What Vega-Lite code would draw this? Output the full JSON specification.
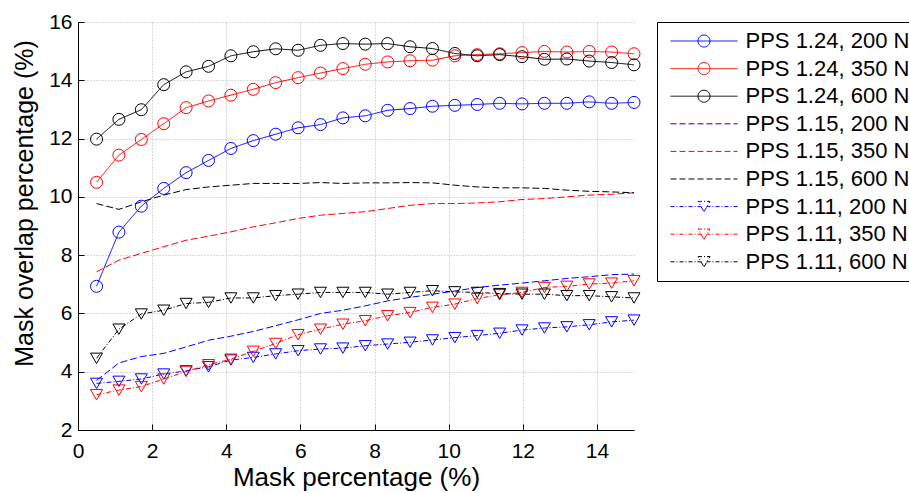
{
"$schema": "https://vega.github.io/schema/vega-lite/v6.json",
"autosize": {"type": "none"},
"padding": {"left": 78, "top": 22, "right": 275, "bottom": 63},
"width": 556,
"height": 408,
"background": "white",
"config": {"font": "Liberation Sans", "view": {"stroke": null}},
"data": {"values": [
{"s":"PPS 1.24, 200 N","x":0.5,"y":6.93},{"s":"PPS 1.24, 200 N","x":1.104,"y":8.79},{"s":"PPS 1.24, 200 N","x":1.708,"y":9.68},{"s":"PPS 1.24, 200 N","x":2.313,"y":10.29},{"s":"PPS 1.24, 200 N","x":2.917,"y":10.83},{"s":"PPS 1.24, 200 N","x":3.521,"y":11.25},{"s":"PPS 1.24, 200 N","x":4.125,"y":11.66},{"s":"PPS 1.24, 200 N","x":4.729,"y":11.93},{"s":"PPS 1.24, 200 N","x":5.333,"y":12.15},{"s":"PPS 1.24, 200 N","x":5.938,"y":12.37},{"s":"PPS 1.24, 200 N","x":6.542,"y":12.48},{"s":"PPS 1.24, 200 N","x":7.146,"y":12.71},{"s":"PPS 1.24, 200 N","x":7.75,"y":12.78},{"s":"PPS 1.24, 200 N","x":8.354,"y":12.97},{"s":"PPS 1.24, 200 N","x":8.958,"y":13.03},{"s":"PPS 1.24, 200 N","x":9.563,"y":13.11},{"s":"PPS 1.24, 200 N","x":10.167,"y":13.14},{"s":"PPS 1.24, 200 N","x":10.771,"y":13.17},{"s":"PPS 1.24, 200 N","x":11.375,"y":13.21},{"s":"PPS 1.24, 200 N","x":11.979,"y":13.19},{"s":"PPS 1.24, 200 N","x":12.583,"y":13.21},{"s":"PPS 1.24, 200 N","x":13.188,"y":13.21},{"s":"PPS 1.24, 200 N","x":13.792,"y":13.26},{"s":"PPS 1.24, 200 N","x":14.396,"y":13.21},{"s":"PPS 1.24, 200 N","x":15,"y":13.24},
{"s":"PPS 1.24, 350 N","x":0.5,"y":10.5},{"s":"PPS 1.24, 350 N","x":1.104,"y":11.43},{"s":"PPS 1.24, 350 N","x":1.708,"y":11.97},{"s":"PPS 1.24, 350 N","x":2.313,"y":12.51},{"s":"PPS 1.24, 350 N","x":2.917,"y":13.06},{"s":"PPS 1.24, 350 N","x":3.521,"y":13.29},{"s":"PPS 1.24, 350 N","x":4.125,"y":13.49},{"s":"PPS 1.24, 350 N","x":4.729,"y":13.69},{"s":"PPS 1.24, 350 N","x":5.333,"y":13.92},{"s":"PPS 1.24, 350 N","x":5.938,"y":14.09},{"s":"PPS 1.24, 350 N","x":6.542,"y":14.25},{"s":"PPS 1.24, 350 N","x":7.146,"y":14.4},{"s":"PPS 1.24, 350 N","x":7.75,"y":14.55},{"s":"PPS 1.24, 350 N","x":8.354,"y":14.63},{"s":"PPS 1.24, 350 N","x":8.958,"y":14.67},{"s":"PPS 1.24, 350 N","x":9.563,"y":14.69},{"s":"PPS 1.24, 350 N","x":10.167,"y":14.84},{"s":"PPS 1.24, 350 N","x":10.771,"y":14.88},{"s":"PPS 1.24, 350 N","x":11.375,"y":14.91},{"s":"PPS 1.24, 350 N","x":11.979,"y":14.95},{"s":"PPS 1.24, 350 N","x":12.583,"y":14.99},{"s":"PPS 1.24, 350 N","x":13.188,"y":14.97},{"s":"PPS 1.24, 350 N","x":13.792,"y":14.99},{"s":"PPS 1.24, 350 N","x":14.396,"y":14.97},{"s":"PPS 1.24, 350 N","x":15,"y":14.91},
{"s":"PPS 1.24, 600 N","x":0.5,"y":11.98},{"s":"PPS 1.24, 600 N","x":1.104,"y":12.66},{"s":"PPS 1.24, 600 N","x":1.708,"y":12.99},{"s":"PPS 1.24, 600 N","x":2.313,"y":13.85},{"s":"PPS 1.24, 600 N","x":2.917,"y":14.29},{"s":"PPS 1.24, 600 N","x":3.521,"y":14.48},{"s":"PPS 1.24, 600 N","x":4.125,"y":14.84},{"s":"PPS 1.24, 600 N","x":4.729,"y":14.98},{"s":"PPS 1.24, 600 N","x":5.333,"y":15.08},{"s":"PPS 1.24, 600 N","x":5.938,"y":15.03},{"s":"PPS 1.24, 600 N","x":6.542,"y":15.2},{"s":"PPS 1.24, 600 N","x":7.146,"y":15.26},{"s":"PPS 1.24, 600 N","x":7.75,"y":15.24},{"s":"PPS 1.24, 600 N","x":8.354,"y":15.26},{"s":"PPS 1.24, 600 N","x":8.958,"y":15.15},{"s":"PPS 1.24, 600 N","x":9.563,"y":15.09},{"s":"PPS 1.24, 600 N","x":10.167,"y":14.92},{"s":"PPS 1.24, 600 N","x":10.771,"y":14.84},{"s":"PPS 1.24, 600 N","x":11.375,"y":14.88},{"s":"PPS 1.24, 600 N","x":11.979,"y":14.81},{"s":"PPS 1.24, 600 N","x":12.583,"y":14.72},{"s":"PPS 1.24, 600 N","x":13.188,"y":14.73},{"s":"PPS 1.24, 600 N","x":13.792,"y":14.66},{"s":"PPS 1.24, 600 N","x":14.396,"y":14.61},{"s":"PPS 1.24, 600 N","x":15,"y":14.53},
{"s":"PPS 1.15, 200 N","x":0.5,"y":3.7},{"s":"PPS 1.15, 200 N","x":1.104,"y":4.3},{"s":"PPS 1.15, 200 N","x":1.708,"y":4.52},{"s":"PPS 1.15, 200 N","x":2.313,"y":4.63},{"s":"PPS 1.15, 200 N","x":2.917,"y":4.85},{"s":"PPS 1.15, 200 N","x":3.521,"y":5.08},{"s":"PPS 1.15, 200 N","x":4.125,"y":5.22},{"s":"PPS 1.15, 200 N","x":4.729,"y":5.38},{"s":"PPS 1.15, 200 N","x":5.333,"y":5.58},{"s":"PPS 1.15, 200 N","x":5.938,"y":5.78},{"s":"PPS 1.15, 200 N","x":6.542,"y":6.0},{"s":"PPS 1.15, 200 N","x":7.146,"y":6.11},{"s":"PPS 1.15, 200 N","x":7.75,"y":6.26},{"s":"PPS 1.15, 200 N","x":8.354,"y":6.43},{"s":"PPS 1.15, 200 N","x":8.958,"y":6.55},{"s":"PPS 1.15, 200 N","x":9.563,"y":6.66},{"s":"PPS 1.15, 200 N","x":10.167,"y":6.77},{"s":"PPS 1.15, 200 N","x":10.771,"y":6.89},{"s":"PPS 1.15, 200 N","x":11.375,"y":6.97},{"s":"PPS 1.15, 200 N","x":11.979,"y":7.04},{"s":"PPS 1.15, 200 N","x":12.583,"y":7.12},{"s":"PPS 1.15, 200 N","x":13.188,"y":7.2},{"s":"PPS 1.15, 200 N","x":13.792,"y":7.26},{"s":"PPS 1.15, 200 N","x":14.396,"y":7.33},{"s":"PPS 1.15, 200 N","x":15,"y":7.35},
{"s":"PPS 1.15, 350 N","x":0.5,"y":7.43},{"s":"PPS 1.15, 350 N","x":1.104,"y":7.83},{"s":"PPS 1.15, 350 N","x":1.708,"y":8.06},{"s":"PPS 1.15, 350 N","x":2.313,"y":8.29},{"s":"PPS 1.15, 350 N","x":2.917,"y":8.51},{"s":"PPS 1.15, 350 N","x":3.521,"y":8.65},{"s":"PPS 1.15, 350 N","x":4.125,"y":8.8},{"s":"PPS 1.15, 350 N","x":4.729,"y":8.97},{"s":"PPS 1.15, 350 N","x":5.333,"y":9.11},{"s":"PPS 1.15, 350 N","x":5.938,"y":9.26},{"s":"PPS 1.15, 350 N","x":6.542,"y":9.37},{"s":"PPS 1.15, 350 N","x":7.146,"y":9.43},{"s":"PPS 1.15, 350 N","x":7.75,"y":9.49},{"s":"PPS 1.15, 350 N","x":8.354,"y":9.6},{"s":"PPS 1.15, 350 N","x":8.958,"y":9.71},{"s":"PPS 1.15, 350 N","x":9.563,"y":9.77},{"s":"PPS 1.15, 350 N","x":10.167,"y":9.77},{"s":"PPS 1.15, 350 N","x":10.771,"y":9.79},{"s":"PPS 1.15, 350 N","x":11.375,"y":9.83},{"s":"PPS 1.15, 350 N","x":11.979,"y":9.91},{"s":"PPS 1.15, 350 N","x":12.583,"y":9.94},{"s":"PPS 1.15, 350 N","x":13.188,"y":10.0},{"s":"PPS 1.15, 350 N","x":13.792,"y":10.06},{"s":"PPS 1.15, 350 N","x":14.396,"y":10.09},{"s":"PPS 1.15, 350 N","x":15,"y":10.14},
{"s":"PPS 1.15, 600 N","x":0.5,"y":9.77},{"s":"PPS 1.15, 600 N","x":1.104,"y":9.57},{"s":"PPS 1.15, 600 N","x":1.708,"y":9.83},{"s":"PPS 1.15, 600 N","x":2.313,"y":10.06},{"s":"PPS 1.15, 600 N","x":2.917,"y":10.25},{"s":"PPS 1.15, 600 N","x":3.521,"y":10.34},{"s":"PPS 1.15, 600 N","x":4.125,"y":10.4},{"s":"PPS 1.15, 600 N","x":4.729,"y":10.46},{"s":"PPS 1.15, 600 N","x":5.333,"y":10.46},{"s":"PPS 1.15, 600 N","x":5.938,"y":10.46},{"s":"PPS 1.15, 600 N","x":6.542,"y":10.49},{"s":"PPS 1.15, 600 N","x":7.146,"y":10.46},{"s":"PPS 1.15, 600 N","x":7.75,"y":10.48},{"s":"PPS 1.15, 600 N","x":8.354,"y":10.48},{"s":"PPS 1.15, 600 N","x":8.958,"y":10.49},{"s":"PPS 1.15, 600 N","x":9.563,"y":10.48},{"s":"PPS 1.15, 600 N","x":10.167,"y":10.4},{"s":"PPS 1.15, 600 N","x":10.771,"y":10.34},{"s":"PPS 1.15, 600 N","x":11.375,"y":10.31},{"s":"PPS 1.15, 600 N","x":11.979,"y":10.31},{"s":"PPS 1.15, 600 N","x":12.583,"y":10.29},{"s":"PPS 1.15, 600 N","x":13.188,"y":10.23},{"s":"PPS 1.15, 600 N","x":13.792,"y":10.19},{"s":"PPS 1.15, 600 N","x":14.396,"y":10.17},{"s":"PPS 1.15, 600 N","x":15,"y":10.14},
{"s":"PPS 1.11, 200 N","x":0.5,"y":3.6},{"s":"PPS 1.11, 200 N","x":1.104,"y":3.67},{"s":"PPS 1.11, 200 N","x":1.708,"y":3.75},{"s":"PPS 1.11, 200 N","x":2.313,"y":3.92},{"s":"PPS 1.11, 200 N","x":2.917,"y":4.03},{"s":"PPS 1.11, 200 N","x":3.521,"y":4.17},{"s":"PPS 1.11, 200 N","x":4.125,"y":4.4},{"s":"PPS 1.11, 200 N","x":4.729,"y":4.49},{"s":"PPS 1.11, 200 N","x":5.333,"y":4.61},{"s":"PPS 1.11, 200 N","x":5.938,"y":4.72},{"s":"PPS 1.11, 200 N","x":6.542,"y":4.78},{"s":"PPS 1.11, 200 N","x":7.146,"y":4.81},{"s":"PPS 1.11, 200 N","x":7.75,"y":4.89},{"s":"PPS 1.11, 200 N","x":8.354,"y":4.95},{"s":"PPS 1.11, 200 N","x":8.958,"y":5.01},{"s":"PPS 1.11, 200 N","x":9.563,"y":5.09},{"s":"PPS 1.11, 200 N","x":10.167,"y":5.17},{"s":"PPS 1.11, 200 N","x":10.771,"y":5.24},{"s":"PPS 1.11, 200 N","x":11.375,"y":5.32},{"s":"PPS 1.11, 200 N","x":11.979,"y":5.43},{"s":"PPS 1.11, 200 N","x":12.583,"y":5.5},{"s":"PPS 1.11, 200 N","x":13.188,"y":5.54},{"s":"PPS 1.11, 200 N","x":13.792,"y":5.61},{"s":"PPS 1.11, 200 N","x":14.396,"y":5.71},{"s":"PPS 1.11, 200 N","x":15,"y":5.77},
{"s":"PPS 1.11, 350 N","x":0.5,"y":3.21},{"s":"PPS 1.11, 350 N","x":1.104,"y":3.37},{"s":"PPS 1.11, 350 N","x":1.708,"y":3.49},{"s":"PPS 1.11, 350 N","x":2.313,"y":3.75},{"s":"PPS 1.11, 350 N","x":2.917,"y":4.01},{"s":"PPS 1.11, 350 N","x":3.521,"y":4.24},{"s":"PPS 1.11, 350 N","x":4.125,"y":4.43},{"s":"PPS 1.11, 350 N","x":4.729,"y":4.7},{"s":"PPS 1.11, 350 N","x":5.333,"y":4.97},{"s":"PPS 1.11, 350 N","x":5.938,"y":5.27},{"s":"PPS 1.11, 350 N","x":6.542,"y":5.46},{"s":"PPS 1.11, 350 N","x":7.146,"y":5.63},{"s":"PPS 1.11, 350 N","x":7.75,"y":5.75},{"s":"PPS 1.11, 350 N","x":8.354,"y":5.92},{"s":"PPS 1.11, 350 N","x":8.958,"y":6.03},{"s":"PPS 1.11, 350 N","x":9.563,"y":6.21},{"s":"PPS 1.11, 350 N","x":10.167,"y":6.32},{"s":"PPS 1.11, 350 N","x":10.771,"y":6.51},{"s":"PPS 1.11, 350 N","x":11.375,"y":6.64},{"s":"PPS 1.11, 350 N","x":11.979,"y":6.72},{"s":"PPS 1.11, 350 N","x":12.583,"y":6.89},{"s":"PPS 1.11, 350 N","x":13.188,"y":6.93},{"s":"PPS 1.11, 350 N","x":13.792,"y":7.01},{"s":"PPS 1.11, 350 N","x":14.396,"y":7.04},{"s":"PPS 1.11, 350 N","x":15,"y":7.12},
{"s":"PPS 1.11, 600 N","x":0.5,"y":4.46},{"s":"PPS 1.11, 600 N","x":1.104,"y":5.46},{"s":"PPS 1.11, 600 N","x":1.708,"y":5.98},{"s":"PPS 1.11, 600 N","x":2.313,"y":6.11},{"s":"PPS 1.11, 600 N","x":2.917,"y":6.34},{"s":"PPS 1.11, 600 N","x":3.521,"y":6.38},{"s":"PPS 1.11, 600 N","x":4.125,"y":6.53},{"s":"PPS 1.11, 600 N","x":4.729,"y":6.53},{"s":"PPS 1.11, 600 N","x":5.333,"y":6.61},{"s":"PPS 1.11, 600 N","x":5.938,"y":6.66},{"s":"PPS 1.11, 600 N","x":6.542,"y":6.72},{"s":"PPS 1.11, 600 N","x":7.146,"y":6.72},{"s":"PPS 1.11, 600 N","x":7.75,"y":6.72},{"s":"PPS 1.11, 600 N","x":8.354,"y":6.66},{"s":"PPS 1.11, 600 N","x":8.958,"y":6.72},{"s":"PPS 1.11, 600 N","x":9.563,"y":6.78},{"s":"PPS 1.11, 600 N","x":10.167,"y":6.74},{"s":"PPS 1.11, 600 N","x":10.771,"y":6.72},{"s":"PPS 1.11, 600 N","x":11.375,"y":6.68},{"s":"PPS 1.11, 600 N","x":11.979,"y":6.66},{"s":"PPS 1.11, 600 N","x":12.583,"y":6.66},{"s":"PPS 1.11, 600 N","x":13.188,"y":6.61},{"s":"PPS 1.11, 600 N","x":13.792,"y":6.61},{"s":"PPS 1.11, 600 N","x":14.396,"y":6.57},{"s":"PPS 1.11, 600 N","x":15,"y":6.53}
]},
"encoding": {
  "x": {"field": "x", "type": "quantitative",
    "scale": {"domain": [0, 15], "nice": false, "zero": false},
    "axis": {"title": "Mask percentage (%)", "values": [0, 2, 4, 6, 8, 10, 12, 14],
      "grid": true, "gridColor": "#b4b4b4", "gridDash": [1, 2], "gridWidth": 1,
      "domainColor": "black", "domainWidth": 1, "tickColor": "black", "tickSize": -6, "tickWidth": 1,
      "labelFontSize": 21, "labelColor": "black", "labelPadding": 16, "labelFlush": false,
      "titleFontSize": 26, "titleFontWeight": "normal", "titleColor": "black",
      "titleY": 55, "titleBaseline": "alphabetic"}},
  "y": {"field": "y", "type": "quantitative",
    "scale": {"domain": [2, 16], "nice": false, "zero": false},
    "axis": {"title": "Mask overlap percentage (%)", "values": [2, 4, 6, 8, 10, 12, 14, 16],
      "grid": true, "gridColor": "#b4b4b4", "gridDash": [1, 2], "gridWidth": 1,
      "domainColor": "black", "domainWidth": 1, "tickColor": "black", "tickSize": -6, "tickWidth": 1,
      "labelFontSize": 21, "labelColor": "black", "labelPadding": 12, "labelFlush": false,
      "titleFontSize": 25, "titleFontWeight": "normal", "titleColor": "black",
      "titleX": -46, "titleY": 181, "titleAlign": "center", "titleBaseline": "alphabetic"}},
  "color": {"field": "s", "type": "nominal",
    "scale": {"domain": ["PPS 1.24, 200 N", "PPS 1.24, 350 N", "PPS 1.24, 600 N", "PPS 1.15, 200 N", "PPS 1.15, 350 N", "PPS 1.15, 600 N", "PPS 1.11, 200 N", "PPS 1.11, 350 N", "PPS 1.11, 600 N"],
      "range": ["#0000ff", "#ff0000", "#000000", "#0000ff", "#ff0000", "#000000", "#0000ff", "#ff0000", "#000000"]},
    "legend": {"title": null, "orient": "right", "offset": 21, "padding": 8, "rowPadding": 5.6,
       "strokeColor": "black", "fillColor": "white", "cornerRadius": 0,
       "symbolSize": 256, "symbolStrokeWidth": 1, "symbolOffset": 2.5, "symbolDash": [1, 0],
       "labelOffset": 56, "labelFontSize": 22, "labelColor": "black", "labelLimit": 400}}
},
"layer": [
  {"mark": {"type": "line", "strokeWidth": 1},
   "encoding": {"strokeDash": {"field": "s", "type": "nominal",
     "scale": {"domain": ["PPS 1.24, 200 N", "PPS 1.24, 350 N", "PPS 1.24, 600 N", "PPS 1.15, 200 N", "PPS 1.15, 350 N", "PPS 1.15, 600 N", "PPS 1.11, 200 N", "PPS 1.11, 350 N", "PPS 1.11, 600 N"],
       "range": [[1, 0], [1, 0], [1, 0], [7, 3], [7, 3], [7, 3], [5, 2, 1, 2], [5, 2, 1, 2], [5, 2, 1, 2]]},
     "legend": null}}},
  {"transform": [{"filter": {"field": "s", "oneOf": ["PPS 1.24, 200 N", "PPS 1.24, 350 N", "PPS 1.24, 600 N"]}}],
   "mark": {"type": "point", "shape": "circle", "filled": false, "size": 144, "strokeWidth": 1, "opacity": 1}},
  {"transform": [{"filter": {"field": "s", "oneOf": ["PPS 1.11, 200 N", "PPS 1.11, 350 N", "PPS 1.11, 600 N"]}}],
   "mark": {"type": "point", "shape": "triangle-down", "filled": false, "size": 144, "strokeWidth": 1, "opacity": 1}},
  {"transform": [{"filter": "false"}],
   "mark": {"type": "point", "filled": false, "strokeWidth": 1, "opacity": 1},
   "encoding": {"shape": {"field": "s", "type": "nominal",
     "scale": {"domain": ["PPS 1.24, 200 N", "PPS 1.24, 350 N", "PPS 1.24, 600 N", "PPS 1.15, 200 N", "PPS 1.15, 350 N", "PPS 1.15, 600 N", "PPS 1.11, 200 N", "PPS 1.11, 350 N", "PPS 1.11, 600 N"],
       "range": [
        "M-1,0L7.375,0M3.9375,0A0.75,0.75,0,1,1,2.4375,0A0.75,0.75,0,1,1,3.9375,0",
        "M-1,0L7.375,0M3.9375,0A0.75,0.75,0,1,1,2.4375,0A0.75,0.75,0,1,1,3.9375,0",
        "M-1,0L7.375,0M3.9375,0A0.75,0.75,0,1,1,2.4375,0A0.75,0.75,0,1,1,3.9375,0",
        "M-1,0L-0.25,0M0.125,0L0.875,0M1.25,0L2,0M2.375,0L3.125,0M3.5,0L4.25,0M4.625,0L5.375,0M5.75,0L6.5,0M6.875,0L7.375,0",
        "M-1,0L-0.25,0M0.125,0L0.875,0M1.25,0L2,0M2.375,0L3.125,0M3.5,0L4.25,0M4.625,0L5.375,0M5.75,0L6.5,0M6.875,0L7.375,0",
        "M-1,0L-0.25,0M0.125,0L0.875,0M1.25,0L2,0M2.375,0L3.125,0M3.5,0L4.25,0M4.625,0L5.375,0M5.75,0L6.5,0M6.875,0L7.375,0",
        "M-1,0L-0.5,0M-0.25,0L-0.125,0M0.125,0L0.625,0M0.875,0L1,0M1.25,0L1.75,0M2,0L2.125,0M2.375,0L2.875,0M3.5,0L4,0M4.25,0L4.375,0M4.625,0L5.125,0M5.375,0L5.5,0M5.75,0L6.25,0M6.5,0L6.625,0M6.875,0L7.375,0M3.1875,0.65L3.9375,-0.65L2.4375,-0.65Z",
        "M-1,0L-0.5,0M-0.25,0L-0.125,0M0.125,0L0.625,0M0.875,0L1,0M1.25,0L1.75,0M2,0L2.125,0M2.375,0L2.875,0M3.5,0L4,0M4.25,0L4.375,0M4.625,0L5.125,0M5.375,0L5.5,0M5.75,0L6.25,0M6.5,0L6.625,0M6.875,0L7.375,0M3.1875,0.65L3.9375,-0.65L2.4375,-0.65Z",
        "M-1,0L-0.5,0M-0.25,0L-0.125,0M0.125,0L0.625,0M0.875,0L1,0M1.25,0L1.75,0M2,0L2.125,0M2.375,0L2.875,0M3.5,0L4,0M4.25,0L4.375,0M4.625,0L5.125,0M5.375,0L5.5,0M5.75,0L6.25,0M6.5,0L6.625,0M6.875,0L7.375,0M3.1875,0.65L3.9375,-0.65L2.4375,-0.65Z"
       ]},
     "legend": {"title": null, "orient": "right", "offset": 21, "padding": 8, "rowPadding": 5.6,
       "strokeColor": "black", "fillColor": "white", "cornerRadius": 0,
       "symbolSize": 256, "symbolStrokeWidth": 1, "symbolOffset": 2.5, "symbolDash": [1, 0],
       "labelOffset": 56, "labelFontSize": 22, "labelColor": "black", "labelLimit": 400}}}}
]
}
